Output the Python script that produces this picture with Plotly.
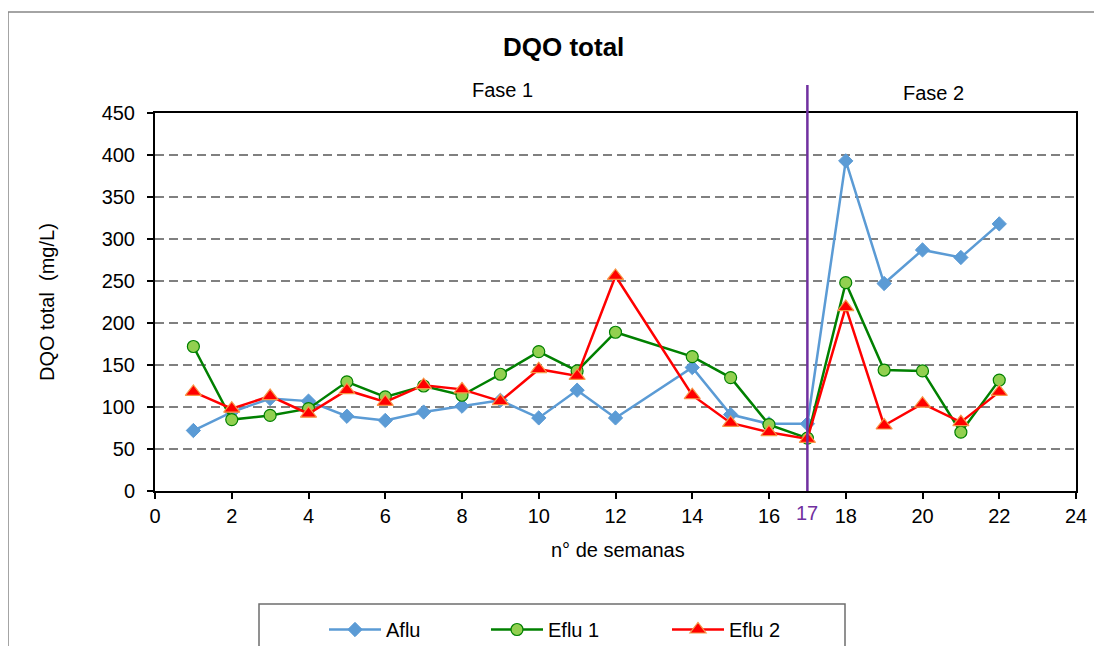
import plotly.graph_objects as go

semanas = [1, 2, 3, 4, 5, 6, 7, 8, 9, 10, 11, 12, 14, 15, 16, 17, 18, 19, 20, 21, 22]
aflu = [72, 94, 110, 107, 89, 84, 94, 101, 108, 87, 120, 87, 147, 91, 80, 80, 393, 247, 287, 278, 318]
eflu1 = [172, 85, 90, 98, 130, 112, 125, 114, 139, 166, 143, 189, 160, 135, 79, 63, 248, 144, 143, 70, 132]
eflu2 = [118, 98, 113, 92, 120, 106, 126, 121, 107, 145, 137, 256, 114, 81, 70, 62, 219, 78, 104, 82, 118]

x_ticks = list(range(0, 25, 2))
y_ticks = list(range(0, 451, 50))
fase_x = 17

FONT = "Liberation Sans, Arial, sans-serif"
OFF = 8  # page body margin in the browser
W, H = 1102 - OFF, 646 - OFF
# plot area in reference (window) pixels
L, R, T, B = 155, 1076, 113, 491
pw, ph = R - L, B - T


def px(xp):
    return (xp - L) / pw


def py(yp):
    return (B - yp) / ph


fig = go.Figure()
fig.add_trace(go.Scatter(
    x=semanas, y=aflu, name="Aflu", mode="lines+markers", legend="legend",
    line=dict(color="#5B9BD5", width=2.5),
    marker=dict(symbol="diamond", size=11, color="#5B9BD5", line=dict(color="#5B9BD5", width=1)),
))
fig.add_trace(go.Scatter(
    x=semanas, y=eflu1, name="Eflu 1", mode="lines+markers", legend="legend2",
    line=dict(color="#008000", width=2.5),
    marker=dict(symbol="circle", size=12, color="#92D050", line=dict(color="#008000", width=1.2)),
))
fig.add_trace(go.Scatter(
    x=semanas, y=eflu2, name="Eflu 2", mode="lines+markers", legend="legend3",
    line=dict(color="#FF0000", width=2.5),
    marker=dict(symbol="triangle-up", size=14, color="#FF0000", line=dict(color="#F79646", width=1.2)),
))


def leg(xline):
    return dict(
        orientation="h", x=px(xline - 5), y=py(610), xanchor="left", yanchor="top",
        bgcolor="rgba(0,0,0,0)", borderwidth=0,
        font=dict(family=FONT, size=20, color="black"),
        itemwidth=52,
    )


fig.update_layout(
    width=W, height=H,
    margin=dict(l=L - OFF, r=(W + OFF) - R, t=T - OFF, b=(H + OFF) - B, autoexpand=False),
    paper_bgcolor="white", plot_bgcolor="white",
    font=dict(family=FONT, size=20, color="black"),
    showlegend=True,
    legend=leg(329), legend2=leg(491), legend3=leg(672),
    xaxis=dict(
        range=[0, 24], tickvals=x_ticks, ticktext=[str(v) for v in x_ticks],
        showgrid=False, zeroline=False,
        showline=True, linecolor="black", linewidth=2, mirror=True,
        ticks="outside", ticklen=6, tickwidth=1.5, tickcolor="black",
        tickfont=dict(family=FONT, size=20, color="black"),
    ),
    yaxis=dict(
        range=[0, 450], tickvals=y_ticks,
        showgrid=True, gridcolor="#808080", gridwidth=2, griddash="9px,5px",
        zeroline=False,
        showline=True, linecolor="black", linewidth=2, mirror=True,
        ticks="outside", ticklen=6, tickwidth=1.5, tickcolor="black",
        ticklabelstandoff=8,
        tickfont=dict(family=FONT, size=20, color="black"),
    ),
)

shapes = [
    dict(type="rect", xref="paper", yref="paper",
         x0=px(8), x1=px(1120), y0=py(12), y1=py(680),
         line=dict(color="#878787", width=1.5), fillcolor="rgba(0,0,0,0)", layer="below"),
    dict(type="rect", xref="paper", yref="paper",
         x0=px(259), x1=px(845), y0=py(604), y1=py(680),
         line=dict(color="#6E6E6E", width=1.5), fillcolor="rgba(0,0,0,0)"),
    dict(type="line", xref="x", yref="paper", x0=fase_x, x1=fase_x,
         y0=0, y1=py(85), line=dict(color="#7030A0", width=2.5)),
]
fig.update_layout(shapes=shapes)

ann = [
    dict(text="<b>DQO total</b>", x=px(563), y=py(47), font=dict(size=26)),
    dict(text="Fase 1", x=px(502), y=py(90)),
    dict(text="Fase 2", x=px(933), y=py(93)),
    dict(text="DQO total  (mg/L)", x=px(47), y=py(302), textangle=-90),
    dict(text="n° de semanas", x=px(618), y=py(550)),
    dict(text="17", x=px(L + fase_x / 24 * pw), y=py(513), font=dict(color="#7030A0", size=20)),
]
for a in ann:
    a.setdefault("font", {})
    a["font"] = dict(family=FONT, size=a["font"].get("size", 20), color=a["font"].get("color", "black"))
    fig.add_annotation(xref="paper", yref="paper", xanchor="center", yanchor="middle",
                       showarrow=False, **a)

fig.write_html("out.html")
